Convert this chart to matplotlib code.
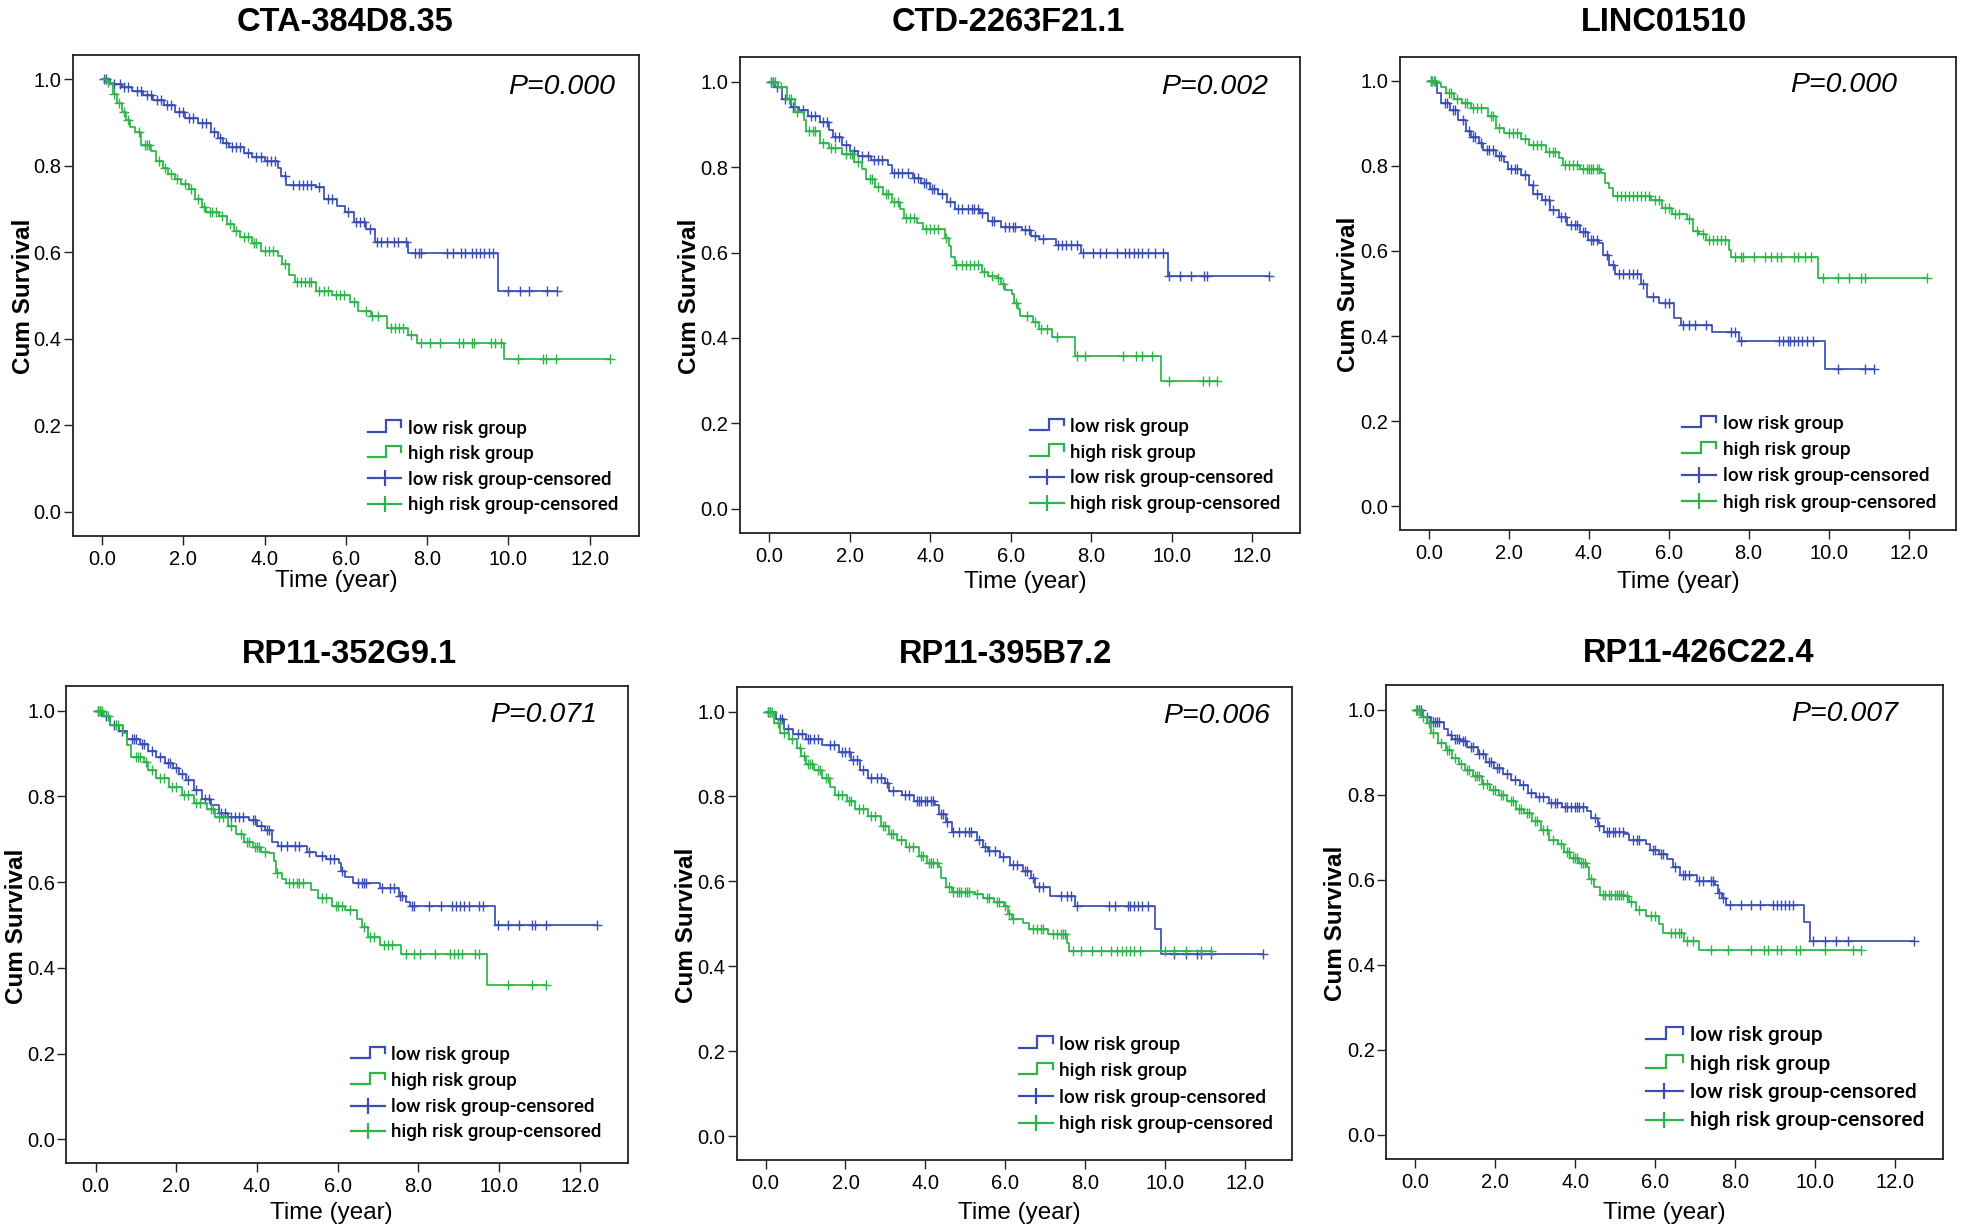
import numpy as np
import matplotlib
matplotlib.use('Agg')
import matplotlib.pyplot as plt
from matplotlib.lines import Line2D
from matplotlib.legend_handler import HandlerBase
from matplotlib import font_manager

plt.rcParams['font.family'] = ['Liberation Sans', 'DejaVu Sans']

titles = ['CTA-384D8.35', 'CTD-2263F21.1', 'LINC01510',
          'RP11-352G9.1', 'RP11-395B7.2', 'RP11-426C22.4']
p_values = ['P=0.000', 'P=0.002', 'P=0.000', 'P=0.071', 'P=0.006', 'P=0.007']
legend_labels = ['low risk group', 'high risk group',
                 'low risk group-censored', 'high risk group-censored']
x_ticks = [0, 2, 4, 6, 8, 10, 12]
y_ticks = [0.0, 0.2, 0.4, 0.6, 0.8, 1.0]

# ---------- Panel 1: CTA-384D8.35 ----------
p1_low_t = [0.2, 0.49, 0.75, 1.0, 1.25, 1.52, 1.8, 2.04, 2.35, 2.67, 2.85, 2.98, 3.13, 3.5, 3.70, 4.0, 4.33, 4.40, 4.53, 5.26, 5.47, 5.78, 5.99, 6.19, 6.50, 6.71, 7.54, 9.75]
p1_low_s = [0.99, 0.982, 0.972, 0.963, 0.952, 0.941, 0.925, 0.910, 0.899, 0.879, 0.865, 0.852, 0.843, 0.830, 0.821, 0.812, 0.795, 0.777, 0.755, 0.750, 0.724, 0.706, 0.693, 0.671, 0.653, 0.624, 0.598, 0.511]
p1_low_c = [0.05, 0.1, 0.3, 0.45, 0.55, 0.65, 0.85, 0.95, 1.1, 1.2, 1.35, 1.45, 1.6, 1.7, 1.9, 2.0, 2.15, 2.25, 2.45, 2.55, 2.75, 2.9, 3.05, 3.2, 3.3, 3.4, 3.6, 3.8, 3.9, 4.05, 4.15, 4.25, 4.5, 4.7, 4.85, 4.95, 5.05, 5.15, 5.35, 5.55, 5.65, 6.05, 6.25, 6.35, 6.45, 6.6, 6.76, 6.87, 7.02, 7.18, 7.28, 7.49, 7.70, 7.80, 7.85, 8.48, 8.63, 8.84, 8.94, 9.10, 9.20, 9.31, 9.41, 9.51, 9.62, 9.98, 10.29, 10.50, 10.96, 11.19]
p1_high_t = [0.1, 0.18, 0.28, 0.38, 0.48, 0.59, 0.70, 0.80, 0.95, 1.21, 1.32, 1.50, 1.63, 1.80, 1.94, 2.15, 2.30, 2.45, 2.56, 2.87, 3.08, 3.25, 3.39, 3.70, 3.91, 4.33, 4.43, 4.59, 4.74, 5.26, 5.67, 6.09, 6.30, 6.61, 7.02, 7.54, 7.75, 9.90]
p1_high_s = [0.995, 0.989, 0.965, 0.945, 0.925, 0.905, 0.89, 0.879, 0.848, 0.834, 0.812, 0.795, 0.781, 0.77, 0.759, 0.746, 0.724, 0.705, 0.693, 0.684, 0.666, 0.65, 0.635, 0.622, 0.604, 0.592, 0.573, 0.547, 0.531, 0.511, 0.502, 0.484, 0.465, 0.453, 0.424, 0.409, 0.391, 0.353]
p1_high_c = [0.15, 0.3, 0.42, 0.55, 0.65, 0.9, 1.05, 1.1, 1.15, 1.4, 1.55, 1.7, 1.85, 2.05, 2.2, 2.35, 2.5, 2.65, 2.7, 2.8, 2.95, 3.15, 3.3, 3.5, 3.6, 3.75, 3.8, 4.0, 4.1, 4.2, 4.5, 4.8, 4.9, 5.0, 5.1, 5.15, 5.35, 5.45, 5.55, 5.75, 5.85, 5.95, 6.2, 6.5, 6.65, 6.8, 7.1, 7.2, 7.3, 7.4, 7.6, 7.85, 8.06, 8.32, 8.79, 8.89, 9.10, 9.15, 9.56, 9.67, 9.82, 10.24, 10.86, 10.93, 11.17, 12.49]

# ---------- Panel 2: CTD-2263F21.1 ----------
p2_low_t = [0.13, 0.33, 0.54, 0.75, 0.96, 1.27, 1.48, 1.59, 1.80, 2.0, 2.21, 2.53, 2.95, 3.05, 3.57, 3.78, 3.99, 4.20, 4.41, 4.62, 5.24, 5.45, 5.76, 6.29, 6.50, 6.70, 7.12, 7.75, 9.91]
p2_low_s = [0.987, 0.96, 0.942, 0.933, 0.92, 0.906, 0.888, 0.871, 0.853, 0.839, 0.826, 0.817, 0.804, 0.786, 0.775, 0.763, 0.75, 0.737, 0.719, 0.701, 0.692, 0.674, 0.661, 0.652, 0.638, 0.632, 0.618, 0.598, 0.545]
p2_low_c = [0.05, 0.1, 0.2, 0.4, 0.6, 0.85, 1.05, 1.15, 1.35, 1.45, 1.65, 1.75, 1.9, 2.1, 2.3, 2.45, 2.6, 2.7, 2.8, 3.1, 3.2, 3.3, 3.45, 3.6, 3.7, 3.85, 3.9, 4.05, 4.1, 4.3, 4.5, 4.7, 4.8, 4.95, 5.05, 5.1, 5.2, 5.3, 5.55, 5.6, 5.85, 5.95, 6.05, 6.1, 6.35, 6.45, 6.6, 6.8, 7.17, 7.28, 7.38, 7.49, 7.64, 7.80, 8.06, 8.22, 8.38, 8.64, 8.85, 8.95, 9.06, 9.16, 9.27, 9.42, 9.58, 9.79, 9.94, 10.22, 10.48, 10.80, 10.88, 12.42]
p2_high_t = [0.23, 0.44, 0.65, 0.86, 0.91, 1.27, 1.48, 1.80, 2.11, 2.32, 2.42, 2.63, 2.84, 3.05, 3.26, 3.36, 3.68, 3.83, 4.36, 4.46, 4.51, 4.62, 5.29, 5.45, 5.66, 5.76, 5.87, 6.03, 6.08, 6.18, 6.23, 6.55, 6.70, 7.02, 7.59, 9.73]
p2_high_s = [0.987, 0.96, 0.929, 0.911, 0.884, 0.857, 0.844, 0.83, 0.8125, 0.795, 0.772, 0.754, 0.737, 0.719, 0.701, 0.68, 0.67, 0.656, 0.634, 0.616, 0.589, 0.571, 0.554, 0.545, 0.54, 0.527, 0.513, 0.503, 0.482, 0.469, 0.451, 0.4375, 0.42, 0.402, 0.357, 0.299]
p2_high_c = [0.05, 0.1, 0.15, 0.3, 0.5, 0.55, 0.7, 1.0, 1.1, 1.15, 1.35, 1.55, 1.65, 1.9, 2.0, 2.05, 2.2, 2.5, 2.55, 2.7, 2.9, 2.95, 3.1, 3.2, 3.4, 3.5, 3.6, 3.9, 4.0, 4.1, 4.2, 4.4, 4.65, 4.8, 4.9, 5.0, 5.1, 5.2, 5.35, 5.55, 5.7, 5.8, 6.13, 6.4, 6.6, 6.75, 6.9, 7.15, 7.64, 7.85, 8.79, 9.11, 9.27, 9.52, 9.94, 10.78, 10.93, 11.14]

# ---------- Panel 3: LINC01510 ----------
p3_low_t = [0.10, 0.21, 0.31, 0.52, 0.73, 0.94, 1.05, 1.26, 1.36, 1.68, 1.89, 1.99, 2.31, 2.52, 2.62, 2.83, 3.04, 3.25, 3.46, 3.78, 3.99, 4.25, 4.36, 4.51, 4.67, 5.30, 5.46, 5.77, 6.14, 6.30, 7.09, 7.77, 9.92]
p3_low_s = [0.994, 0.971, 0.949, 0.931, 0.908, 0.882, 0.868, 0.855, 0.837, 0.823, 0.81, 0.792, 0.778, 0.756, 0.733, 0.72, 0.697, 0.68, 0.662, 0.644, 0.626, 0.619, 0.59, 0.567, 0.545, 0.522, 0.491, 0.478, 0.442, 0.426, 0.41, 0.388, 0.323]
p3_low_c = [0.05, 0.4, 0.45, 0.6, 0.65, 0.85, 1.0, 1.1, 1.15, 1.3, 1.45, 1.5, 1.6, 1.75, 1.8, 2.05, 2.15, 2.2, 2.4, 2.6, 2.7, 2.9, 3.0, 3.1, 3.3, 3.4, 3.55, 3.65, 3.7, 3.85, 3.9, 4.05, 4.1, 4.2, 4.45, 4.6, 4.75, 4.85, 5.0, 5.1, 5.2, 5.35, 5.6, 5.9, 6.0, 6.35, 6.51, 6.67, 6.93, 7.56, 7.66, 7.82, 8.77, 8.87, 8.98, 9.03, 9.13, 9.24, 9.34, 9.45, 9.61, 10.24, 10.92, 11.13]
p3_high_t = [0.21, 0.31, 0.42, 0.63, 0.84, 1.05, 1.47, 1.68, 1.89, 2.31, 2.52, 2.94, 3.25, 3.36, 3.78, 4.30, 4.41, 4.51, 4.62, 5.56, 5.83, 6.09, 6.46, 6.61, 6.77, 6.93, 7.51, 7.56, 9.73]
p3_high_s = [0.994, 0.985, 0.971, 0.958, 0.949, 0.935, 0.917, 0.89, 0.877, 0.864, 0.85, 0.832, 0.819, 0.801, 0.792, 0.783, 0.76, 0.747, 0.729, 0.72, 0.702, 0.688, 0.675, 0.648, 0.639, 0.626, 0.603, 0.585, 0.536]
p3_high_c = [0.05, 0.08, 0.12, 0.15, 0.5, 0.55, 0.7, 0.9, 0.95, 1.1, 1.2, 1.3, 1.55, 1.6, 1.75, 2.0, 2.1, 2.2, 2.4, 2.6, 2.7, 2.8, 3.0, 3.1, 3.15, 3.4, 3.5, 3.6, 3.7, 3.85, 3.95, 4.0, 4.05, 4.1, 4.2, 4.25, 4.7, 4.8, 4.9, 5.0, 5.1, 5.2, 5.3, 5.4, 5.5, 5.65, 5.75, 5.9, 6.0, 6.15, 6.25, 6.5, 6.7, 6.85, 7.0, 7.1, 7.2, 7.3, 7.4, 7.66, 7.82, 7.87, 8.14, 8.40, 8.56, 8.71, 8.82, 9.13, 9.24, 9.40, 9.55, 9.87, 10.24, 10.50, 10.81, 10.92, 12.46]

# ---------- Panel 4: RP11-352G9.1 ----------
p4_low_t = [0.16, 0.36, 0.57, 0.78, 1.09, 1.30, 1.51, 1.71, 1.92, 2.08, 2.23, 2.44, 2.65, 2.86, 3.06, 3.27, 3.79, 4.00, 4.20, 4.36, 4.52, 5.25, 5.45, 5.71, 6.03, 6.08, 6.18, 6.39, 7.06, 7.53, 7.69, 7.79, 9.89]
p4_low_s = [0.988, 0.967, 0.952, 0.934, 0.922, 0.907, 0.893, 0.877, 0.866, 0.852, 0.839, 0.816, 0.794, 0.78, 0.762, 0.753, 0.744, 0.73, 0.721, 0.694, 0.685, 0.671, 0.662, 0.653, 0.644, 0.626, 0.613, 0.599, 0.586, 0.567, 0.554, 0.545, 0.5]
p4_low_c = [0.05, 0.1, 0.25, 0.45, 0.65, 0.9, 0.95, 1.0, 1.15, 1.2, 1.4, 1.6, 1.8, 1.85, 2.0, 2.15, 2.3, 2.5, 2.7, 2.8, 3.1, 3.2, 3.35, 3.45, 3.55, 3.65, 3.9, 3.95, 4.1, 4.25, 4.3, 4.6, 4.75, 4.95, 5.05, 5.3, 5.6, 5.8, 5.9, 6.1, 6.5, 6.6, 6.65, 6.7, 7.1, 7.3, 7.4, 7.55, 7.6, 7.85, 7.90, 8.26, 8.57, 8.83, 8.94, 9.04, 9.14, 9.25, 9.51, 9.61, 9.97, 10.23, 10.49, 10.81, 10.88, 11.17, 12.42]
p4_high_t = [0.21, 0.36, 0.68, 0.78, 0.88, 1.19, 1.30, 1.51, 1.82, 2.13, 2.44, 2.75, 2.96, 3.27, 3.48, 3.69, 3.90, 4.10, 4.31, 4.42, 4.47, 4.62, 4.73, 5.35, 5.51, 5.87, 6.18, 6.49, 6.60, 6.75, 7.06, 7.58, 9.71]
p4_high_s = [0.988, 0.966, 0.948, 0.92, 0.893, 0.88, 0.862, 0.843, 0.821, 0.803, 0.785, 0.771, 0.753, 0.73, 0.712, 0.694, 0.681, 0.671, 0.667, 0.649, 0.622, 0.608, 0.599, 0.581, 0.563, 0.545, 0.536, 0.513, 0.495, 0.472, 0.454, 0.432, 0.361]
p4_high_c = [0.05, 0.1, 0.15, 0.3, 0.5, 0.55, 1.0, 1.05, 1.1, 1.25, 1.4, 1.6, 1.7, 1.9, 2.0, 2.2, 2.3, 2.5, 2.6, 2.85, 2.9, 3.05, 3.15, 3.35, 3.6, 3.75, 3.8, 3.95, 4.0, 4.05, 4.2, 4.5, 4.8, 4.9, 5.0, 5.05, 5.15, 5.6, 5.7, 5.95, 6.0, 6.1, 6.3, 6.65, 6.8, 6.9, 7.15, 7.25, 7.35, 7.69, 7.90, 8.05, 8.42, 8.78, 8.88, 8.99, 9.09, 9.40, 9.51, 10.23, 10.81, 11.17]

# ---------- Panel 5: RP11-395B7.2 ----------
p5_low_t = [0.26, 0.47, 0.68, 1.00, 1.42, 1.83, 2.15, 2.36, 2.57, 2.99, 3.09, 3.41, 3.72, 4.25, 4.35, 4.51, 4.66, 5.29, 5.45, 5.56, 5.87, 6.13, 6.45, 6.66, 6.76, 7.13, 7.76, 9.75, 9.91]
p5_low_s = [0.982, 0.959, 0.948, 0.936, 0.922, 0.904, 0.886, 0.863, 0.844, 0.831, 0.812, 0.803, 0.79, 0.78, 0.758, 0.739, 0.716, 0.698, 0.68, 0.671, 0.657, 0.639, 0.625, 0.607, 0.588, 0.566, 0.543, 0.488, 0.428]
p5_low_c = [0.05, 0.1, 0.35, 0.4, 0.55, 0.8, 0.9, 1.05, 1.1, 1.2, 1.3, 1.6, 1.7, 1.9, 2.0, 2.1, 2.2, 2.3, 2.45, 2.65, 2.8, 2.9, 3.05, 3.2, 3.5, 3.6, 3.8, 3.85, 3.9, 4.0, 4.05, 4.15, 4.2, 4.4, 4.45, 4.55, 4.7, 4.85, 5.0, 5.1, 5.15, 5.35, 5.5, 5.6, 5.75, 5.95, 6.2, 6.3, 6.5, 6.55, 6.7, 6.85, 6.95, 7.39, 7.55, 7.65, 7.81, 8.60, 8.75, 9.07, 9.12, 9.22, 9.33, 9.43, 9.59, 10.22, 10.53, 10.80, 10.90, 11.16, 12.47]
p5_high_t = [0.21, 0.37, 0.58, 0.79, 0.89, 1.00, 1.21, 1.42, 1.62, 1.73, 2.04, 2.25, 2.57, 2.88, 3.09, 3.30, 3.51, 3.83, 4.04, 4.35, 4.40, 4.51, 4.66, 5.24, 5.45, 5.71, 5.97, 6.08, 6.18, 6.45, 6.60, 7.08, 7.55, 7.60]
p5_high_s = [0.973, 0.95, 0.936, 0.913, 0.895, 0.876, 0.863, 0.844, 0.822, 0.803, 0.79, 0.771, 0.753, 0.73, 0.712, 0.698, 0.68, 0.661, 0.643, 0.634, 0.607, 0.588, 0.576, 0.57, 0.561, 0.552, 0.543, 0.524, 0.512, 0.501, 0.488, 0.476, 0.456, 0.437]
p5_high_c = [0.05, 0.1, 0.15, 0.3, 0.45, 0.65, 0.85, 0.95, 1.05, 1.1, 1.15, 1.3, 1.35, 1.5, 1.55, 1.8, 1.9, 2.1, 2.15, 2.35, 2.45, 2.65, 2.75, 2.95, 3.0, 3.15, 3.2, 3.4, 3.6, 3.7, 3.9, 3.95, 4.1, 4.15, 4.2, 4.3, 4.6, 4.7, 4.8, 4.85, 4.9, 5.0, 5.05, 5.1, 5.3, 5.55, 5.6, 5.8, 5.85, 6.0, 6.1, 6.2, 6.7, 6.8, 6.9, 6.95, 7.2, 7.3, 7.4, 7.45, 7.50, 7.70, 7.91, 8.18, 8.39, 8.65, 8.81, 8.92, 9.02, 9.13, 9.23, 9.38, 10.01, 10.22, 10.53, 10.90, 11.16]

# ---------- Panel 6: RP11-426C22.4 ----------
p6_low_t = [0.19, 0.40, 0.72, 0.82, 0.93, 1.14, 1.30, 1.56, 1.77, 1.98, 2.19, 2.40, 2.61, 2.82, 3.03, 3.35, 3.67, 4.30, 4.40, 4.56, 4.72, 5.25, 5.35, 5.77, 5.88, 6.09, 6.30, 6.46, 6.62, 7.04, 7.51, 7.57, 7.67, 7.78, 9.73, 9.88]
p6_low_s = [0.982, 0.971, 0.954, 0.941, 0.931, 0.927, 0.913, 0.895, 0.876, 0.863, 0.849, 0.835, 0.822, 0.803, 0.794, 0.78, 0.771, 0.762, 0.744, 0.726, 0.712, 0.707, 0.694, 0.684, 0.671, 0.661, 0.648, 0.629, 0.611, 0.597, 0.588, 0.57, 0.556, 0.541, 0.501, 0.456]
p6_low_c = [0.05, 0.1, 0.15, 0.3, 0.45, 0.5, 0.55, 0.6, 0.9, 1.0, 1.05, 1.1, 1.2, 1.25, 1.4, 1.45, 1.6, 1.7, 1.85, 1.9, 2.05, 2.1, 2.3, 2.5, 2.7, 2.9, 3.1, 3.2, 3.4, 3.5, 3.55, 3.75, 3.8, 3.9, 4.0, 4.05, 4.1, 4.2, 4.5, 4.6, 4.8, 4.85, 4.95, 5.0, 5.1, 5.2, 5.45, 5.55, 5.6, 5.95, 6.0, 6.15, 6.2, 6.5, 6.7, 6.75, 6.85, 7.1, 7.2, 7.4, 7.45, 7.6, 7.7, 7.88, 8.15, 8.41, 8.62, 8.94, 9.04, 9.15, 9.25, 9.36, 9.46, 9.94, 10.25, 10.52, 10.83, 12.47]
p6_high_t = [0.14, 0.30, 0.40, 0.56, 0.77, 0.93, 1.09, 1.24, 1.45, 1.66, 1.88, 2.09, 2.30, 2.51, 2.72, 2.93, 3.14, 3.35, 3.56, 3.72, 3.88, 4.09, 4.30, 4.35, 4.46, 4.61, 5.25, 5.35, 5.51, 5.77, 6.09, 6.20, 6.72, 7.09]
p6_high_s = [0.982, 0.968, 0.945, 0.922, 0.904, 0.886, 0.872, 0.858, 0.844, 0.826, 0.812, 0.799, 0.785, 0.767, 0.758, 0.739, 0.716, 0.693, 0.684, 0.666, 0.652, 0.639, 0.629, 0.602, 0.584, 0.565, 0.561, 0.547, 0.529, 0.515, 0.497, 0.474, 0.456, 0.435]
p6_high_c = [0.02, 0.05, 0.1, 0.2, 0.35, 0.45, 0.65, 0.8, 0.85, 1.0, 1.15, 1.3, 1.35, 1.5, 1.55, 1.6, 1.7, 1.8, 1.95, 2.0, 2.15, 2.2, 2.4, 2.45, 2.6, 2.65, 2.8, 2.85, 3.0, 3.05, 3.2, 3.3, 3.45, 3.65, 3.8, 3.85, 3.95, 4.0, 4.05, 4.15, 4.2, 4.25, 4.4, 4.7, 4.75, 4.85, 4.9, 5.0, 5.05, 5.1, 5.15, 5.2, 5.3, 5.4, 5.6, 5.9, 6.0, 6.4, 6.5, 6.6, 6.65, 6.8, 6.95, 7.41, 7.83, 8.41, 8.72, 8.83, 9.04, 9.15, 9.52, 9.62, 10.25, 10.94, 11.15]

BLUE = '#3B4EB4'
GREEN = '#2DB44A'

series = [
    (p1_low_t, p1_low_s, p1_low_c, p1_high_t, p1_high_s, p1_high_c),
    (p2_low_t, p2_low_s, p2_low_c, p2_high_t, p2_high_s, p2_high_c),
    (p3_low_t, p3_low_s, p3_low_c, p3_high_t, p3_high_s, p3_high_c),
    (p4_low_t, p4_low_s, p4_low_c, p4_high_t, p4_high_s, p4_high_c),
    (p5_low_t, p5_low_s, p5_low_c, p5_high_t, p5_high_s, p5_high_c),
    (p6_low_t, p6_low_s, p6_low_c, p6_high_t, p6_high_s, p6_high_c),
]

# layout (figure fractions) and per-panel text placement (axes fractions)
axes_rects = [
    [0.0371, 0.5644, 0.2885, 0.3911],
    [0.3774, 0.5669, 0.2857, 0.3864],
    [0.7139, 0.5691, 0.2838, 0.3849],
    [0.0339, 0.0541, 0.2865, 0.3880],
    [0.3758, 0.0569, 0.2833, 0.3843],
    [0.7070, 0.0579, 0.2838, 0.3849],
]
title_pos = [(0.481, 1.050), (0.479, 1.056), (0.475, 1.055),
             (0.503, 1.049), (0.484, 1.052), (0.561, 1.049)]
pval_pos = [(0.958, 0.932), (0.943, 0.937), (0.893, 0.94),
            (0.945, 0.94), (0.96, 0.94), (0.92, 0.94)]
xlabel_pos = [(0.4665, -0.095), (0.509, -0.103), (0.50, -0.109),
              (0.471, -0.104), (0.509, -0.113), (0.50, -0.115)]
ylabel_x = [-0.087, -0.091, -0.093, -0.089, -0.090, -0.091]
# (handle left, first-row centre, last-row centre) in axes fractions
legend_pos = [(0.522, 0.223, 0.064), (0.518, 0.223, 0.060), (0.507, 0.224, 0.058),
              (0.507, 0.227, 0.065), (0.507, 0.244, 0.076), (0.466, 0.26, 0.08)]
legend_scale = [1.0, 1.0, 1.01, 1.0, 1.02, 1.11]


def _has_font(family, weight):
    try:
        path = font_manager.findfont(font_manager.FontProperties(family=family, weight=weight),
                                     fallback_to_default=False)
        return family.split()[0].lower() in path.lower()
    except Exception:
        return False


if _has_font('Roboto', 'medium'):
    LEG_FAMILY, LEG_WEIGHT, LEG_FS = 'Roboto', 'medium', 13.6
else:
    LEG_FAMILY, LEG_WEIGHT, LEG_FS = 'Liberation Sans', 'normal', 13.6


class StepHandler(HandlerBase):
    def create_artists(self, legend, orig_handle, xdescent, ydescent,
                       width, height, fontsize, trans):
        x0, y0 = -xdescent, -ydescent
        xs = [x0, x0 + 0.55 * width, x0 + 0.55 * width, x0 + width, x0 + width]
        ys = [y0 + 0.05 * height, y0 + 0.05 * height, y0 + 1.1 * height,
              y0 + 1.1 * height, y0 + 0.5 * height]
        ln = Line2D(xs, ys, color=orig_handle.get_color(),
                    lw=orig_handle.get_linewidth(), solid_joinstyle='miter')
        ln.set_transform(trans)
        return [ln]


def km(ax, t, s, c, color):
    t = np.asarray(t, float)
    s = np.asarray(s, float)
    c = np.asarray(c, float)
    tend = max(c.max(), t.max())
    xs = np.r_[0.0, t, tend]
    ys = np.r_[1.0, s, s[-1]]
    ax.step(xs, ys, where='post', color=color, lw=1.25)
    idx = np.searchsorted(t, c, side='right')
    cy = np.r_[1.0, s][idx]
    ax.plot(c, cy, ls='none', marker='+', ms=7.5, mew=1.0, color=color)


fig = plt.figure(figsize=(19.61, 12.30), dpi=100)


def make_legend(ax, i, lspacing, anchor_y):
    fs = LEG_FS * legend_scale[i]
    fs_px = fs * 100 / 72.0
    h_low = Line2D([], [], color=BLUE, lw=1.6)
    h_high = Line2D([], [], color=GREEN, lw=1.6)
    h_lowc = Line2D([], [], color=BLUE, lw=1.6, marker='|', ms=11 * legend_scale[i], mew=1.6)
    h_highc = Line2D([], [], color=GREEN, lw=1.6, marker='|', ms=11 * legend_scale[i], mew=1.6)
    return ax.legend([h_low, h_high, h_lowc, h_highc], legend_labels,
                     handler_map={h_low: StepHandler(), h_high: StepHandler()},
                     loc='upper left', bbox_to_anchor=(legend_pos[i][0], anchor_y),
                     frameon=False, borderpad=0, borderaxespad=0,
                     handlelength=33.4 * legend_scale[i] / fs_px,
                     handleheight=0.5,
                     handletextpad=6.6 * legend_scale[i] / fs_px,
                     labelspacing=lspacing,
                     prop={'family': LEG_FAMILY, 'weight': LEG_WEIGHT, 'size': fs})


def text_centers(leg):
    fig.canvas.draw()
    rend = fig.canvas.get_renderer()
    ys = []
    for t in leg.get_texts():
        bb = t.get_window_extent(renderer=rend)
        ys.append(0.5 * (bb.y0 + bb.y1))
    return ys


axes_list = []
for i in range(6):
    ax = fig.add_axes(axes_rects[i])
    axes_list.append(ax)
    lt, ls_, lc, ht, hs, hc = series[i]
    km(ax, lt, ls_, lc, BLUE)
    km(ax, ht, hs, hc, GREEN)

    ax.set_xlim(-0.72, 13.2)
    ax.set_ylim(-0.056, 1.057)
    ax.set_xticks(x_ticks)
    ax.set_xticklabels([f'{v:.1f}' for v in x_ticks])
    ax.set_yticks(y_ticks)
    ax.set_yticklabels([f'{v:.1f}' for v in y_ticks])
    ax.tick_params(axis='both', direction='out', length=6.5, width=1.0,
                   labelsize=14.5, color='#222222')
    ax.tick_params(axis='x', pad=3.5)
    ax.tick_params(axis='y', pad=1.8)
    for sp in ax.spines.values():
        sp.set_linewidth(1.3)
        sp.set_color('#222222')

    ax.text(title_pos[i][0], title_pos[i][1], titles[i], transform=ax.transAxes,
            ha='center', va='baseline', fontsize=23.5, fontweight='bold')
    ax.text(pval_pos[i][0], pval_pos[i][1], p_values[i], transform=ax.transAxes,
            ha='right', va='center', fontsize=20.5, fontstyle='italic')
    ax.text(xlabel_pos[i][0], xlabel_pos[i][1], 'Time (year)', transform=ax.transAxes,
            ha='center', va='center', fontsize=17.5)
    ax.text(ylabel_x[i], 0.497, 'Cum Survival', transform=ax.transAxes,
            ha='center', va='center', rotation=90, fontsize=17.5, fontweight='bold')

# legends: place rows at the measured positions (two calibration passes)
for i, ax in enumerate(axes_list):
    fs_px = LEG_FS * legend_scale[i] * 100 / 72.0
    ax_h_px = axes_rects[i][3] * 1230
    hx, ytop, ybot = legend_pos[i]
    want_row = (ytop - ybot) / 3.0 * ax_h_px
    ax_y0 = axes_rects[i][1] * 1230
    want_first = ax_y0 + ytop * ax_h_px

    ls = 0.4
    anchor = ytop + 0.03
    leg = make_legend(ax, i, ls, anchor)
    ys = text_centers(leg)
    got_row = (ys[0] - ys[3]) / 3.0
    ls = ls + (want_row - got_row) / fs_px
    leg.remove()
    leg = make_legend(ax, i, ls, anchor)
    ys = text_centers(leg)
    anchor = anchor + (want_first - ys[0]) / ax_h_px
    leg.remove()
    make_legend(ax, i, ls, anchor)

fig.savefig('out.png', dpi=100)
